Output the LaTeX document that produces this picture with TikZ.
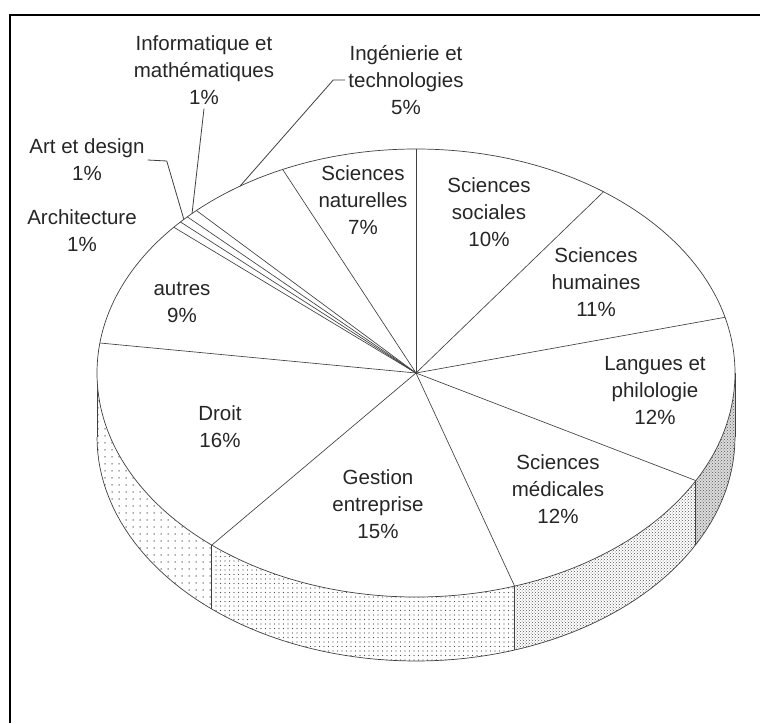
\documentclass[tikz,border=0pt]{standalone}
\usepackage{fontspec}
\setmainfont{Liberation Sans}
\usetikzlibrary{patterns,patterns.meta}
\begin{document}
\begin{tikzpicture}[x=1pt,y=-1pt,
  rim/.style={draw=black!75, line width=0.7pt},
  slice/.style={draw=black!75, line width=0.65pt},
  lbl/.style={align=center, inner sep=0pt, font=\fontsize{20.5}{27}\selectfont, text=black!85},
  leader/.style={draw=black!75, line width=0.8pt},
  frame/.style={draw=black, line width=2.6pt}]
\def\cx{416}\def\cy{373}\def\rx{319}\def\ry{224}\def\dep{64}
\useasboundingbox (0,0) rectangle (760,723);
\fill[white] (0,0) rectangle (760,723);
% frame
\draw[frame] (10,723) -- (10,15) -- (760,15);
% rim points
\foreach \n/\a in {B1/90, B2/54, B3/14.4, B4/-28.7, B5/-72, B6/-129.8, B7/172.3, B8/139.4, B9/137.6, B10/135.8, B11/133.5, B12/114.7, Linfo/134.6, Lart/136.7, Ling/123.5, Lft/180, Rgt/0}
  \coordinate (\n) at ({\cx+\rx*cos(\a)},{\cy-\ry*sin(\a)});
\coordinate (O) at (\cx,\cy);
% side walls
\fill[pattern={Dots[distance=7pt, radius=0.75pt]}, pattern color=black!65]
  plot[domain=180:230.2, samples=30, variable=\t] ({\cx+\rx*cos(\t)},{\cy-\ry*sin(\t)})
  -- plot[domain=230.2:180, samples=30, variable=\t] ({\cx+\rx*cos(\t)},{\cy+\dep-\ry*sin(\t)}) -- cycle;
\fill[pattern={Dots[distance=4.5pt, radius=0.7pt]}, pattern color=black!70]
  plot[domain=230.2:288, samples=30, variable=\t] ({\cx+\rx*cos(\t)},{\cy-\ry*sin(\t)})
  -- plot[domain=288:230.2, samples=30, variable=\t] ({\cx+\rx*cos(\t)},{\cy+\dep-\ry*sin(\t)}) -- cycle;
\fill[pattern=crosshatch dots, pattern color=black!65]
  plot[domain=288:331.3, samples=30, variable=\t] ({\cx+\rx*cos(\t)},{\cy-\ry*sin(\t)})
  -- plot[domain=331.3:288, samples=30, variable=\t] ({\cx+\rx*cos(\t)},{\cy+\dep-\ry*sin(\t)}) -- cycle;
\fill[black!14]
  plot[domain=331.3:360, samples=20, variable=\t] ({\cx+\rx*cos(\t)},{\cy-\ry*sin(\t)})
  -- plot[domain=360:331.3, samples=20, variable=\t] ({\cx+\rx*cos(\t)},{\cy+\dep-\ry*sin(\t)}) -- cycle;
\fill[pattern=crosshatch dots, pattern color=black!65]
  plot[domain=331.3:360, samples=20, variable=\t] ({\cx+\rx*cos(\t)},{\cy-\ry*sin(\t)})
  -- plot[domain=360:331.3, samples=20, variable=\t] ({\cx+\rx*cos(\t)},{\cy+\dep-\ry*sin(\t)}) -- cycle;
\draw[rim] plot[domain=180:360, samples=90, variable=\t] ({\cx+\rx*cos(\t)},{\cy+\dep-\ry*sin(\t)});
\draw[rim] (Lft) -- ++(0,\dep) (Rgt) -- ++(0,\dep) (B6) -- ++(0,\dep) (B5) -- ++(0,\dep) (B4) -- ++(0,\dep);
% top face
\filldraw[fill=white, rim] (O) ellipse [x radius=\rx, y radius=\ry];
\foreach \b in {B1,B2,B3,B4,B5,B6,B7,B8,B9,B10,B11,B12}
  \draw[slice] (O) -- (\b);
% labels inside
\node[lbl] (nat) at (363,200) {Sciences\\naturelles\\7\%};
\node[lbl] (soc) at (489,212) {Sciences\\sociales\\10\%};
\node[lbl] (hum) at (596,282) {Sciences\\humaines\\11\%};
\node[lbl] (lan) at (655,391) {Langues et\\philologie\\12\%};
\node[lbl] (med) at (558,489) {Sciences\\médicales\\12\%};
\node[lbl] (ges) at (378,504) {Gestion\\entreprise\\15\%};
\node[lbl] (dro) at (220,427) {Droit\\16\%};
\node[lbl] (aut) at (182,302) {autres\\9\%};
% outside labels
\node[lbl] (ing) at (406,80) {Ingénierie et\\technologies\\5\%};
\node[lbl] (inf) at (204,70) {Informatique et\\mathématiques\\1\%};
\node[lbl] (art) at (87,160) {Art et design\\1\%};
\node[lbl] (arc) at (82,231) {Architecture\\1\%};
% leaders
\draw[leader] ([yshift=-4pt]inf.south) -- (Linfo);
\draw[leader] ([xshift=3pt]art.east) -- ++(19,1) -- (Lart);
\draw[leader] ([xshift=-3pt]ing.west) -- ++(-12,0) -- (Ling);
\end{tikzpicture}
\end{document}
